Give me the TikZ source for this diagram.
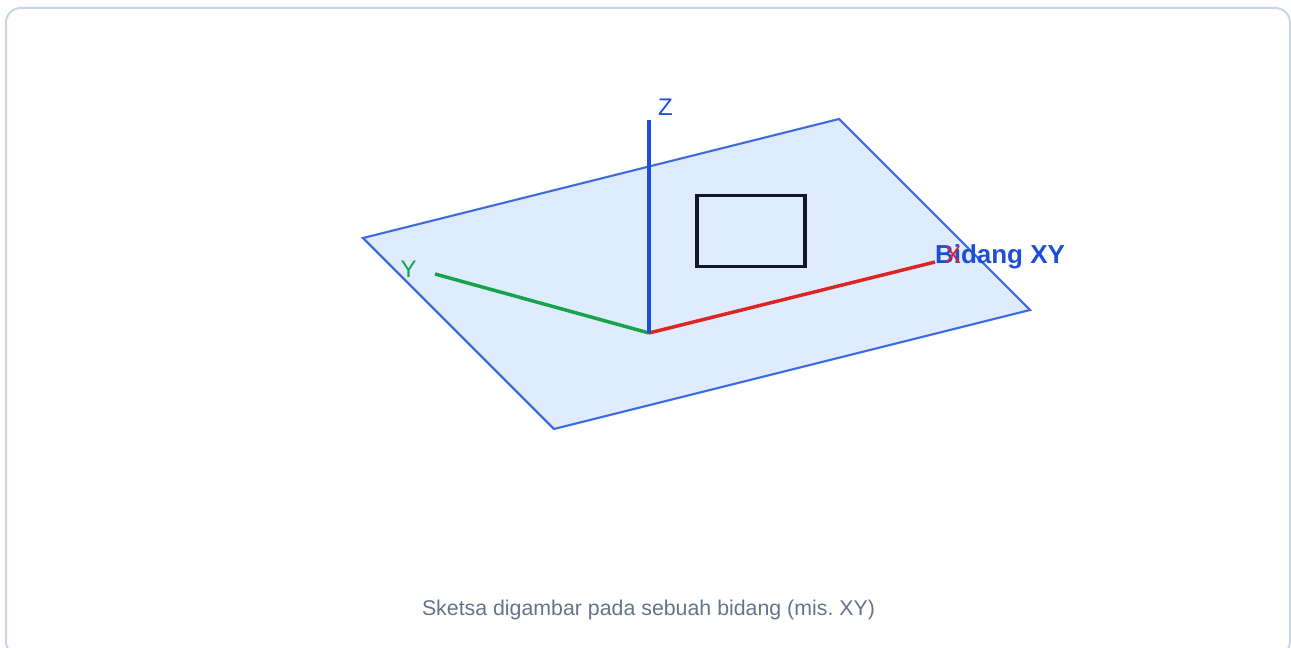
\documentclass[tikz,border=0pt]{standalone}
\usepackage{fontspec}
\setmainfont{Liberation Sans}
\usetikzlibrary{positioning}
\definecolor{biru}{HTML}{1D4ED8}
\definecolor{merah}{HTML}{DC2626}
\definecolor{hijau}{HTML}{16A34A}
\definecolor{garis}{HTML}{4169E1}
\definecolor{isi}{HTML}{DFECFD}
\definecolor{tepi}{HTML}{CBD5E1}
\definecolor{gelap}{HTML}{0F172A}
\definecolor{abu}{HTML}{64748B}
\frenchspacing
\begin{document}
\begin{tikzpicture}[
      x=0.75pt, y=-0.75pt,
      bidang/.style={draw=garis, fill=isi, line width=1.6pt, line join=miter},
      sumbu/.style={line width=2.6pt},
      kotak/.style={draw=gelap, line width=2.3pt, minimum width=81pt, minimum height=53pt,
                    inner sep=0pt},
      et/.style={font=\fontsize{18}{20}\selectfont, inner sep=0pt},
    ]
    \useasboundingbox (0,0) rectangle (1291,648);

    % --- Kartu ---
    \begin{scope}
      \clip (0,0) rectangle (1291,648);
      \draw[tepi, line width=1.5pt, rounded corners=11pt] (6,8) rectangle (1290,656);
    \end{scope}

    % --- Bidang ---
    \coordinate (a) at (363,238);
    \coordinate (b) at (839,119);
    \coordinate (c) at (1030,310);
    \coordinate (d) at (554,429);
    \draw[bidang] (a) -- (b) -- (c) -- (d) -- cycle;

    % --- Sumbu ---
    \coordinate (o) at (649,333);
    \coordinate (ujungx) at (935,262);
    \coordinate (ujungy) at (435,274);
    \coordinate (ujungz) at (649,120);
    \draw[sumbu, draw=merah] (o) -- (ujungx);
    \draw[sumbu, draw=hijau] (o) -- (ujungy);
    \draw[sumbu, draw=biru] (o) -- (ujungz);

    \node[kotak] (sketsa) at (751,231) {};

    % --- Label ---
    \node[text=biru, font=\fontsize{19.5}{22}\selectfont\bfseries, inner sep=0pt] (judul) at (1000,257) {Bidang XY};
    \node[et, text=merah] (lx) at (953,255) {X};
    \node[et, text=hijau] (ly) at (408.5,269) {Y};
    \node[et, text=biru] (lz) at (665.5,107) {Z};
    \node[text=abu, font=\fontsize{16}{18}\selectfont, inner sep=0pt] (ket) at (648.5,610) {Sketsa digambar pada sebuah bidang (mis. XY)};
\end{tikzpicture}
\end{document}
